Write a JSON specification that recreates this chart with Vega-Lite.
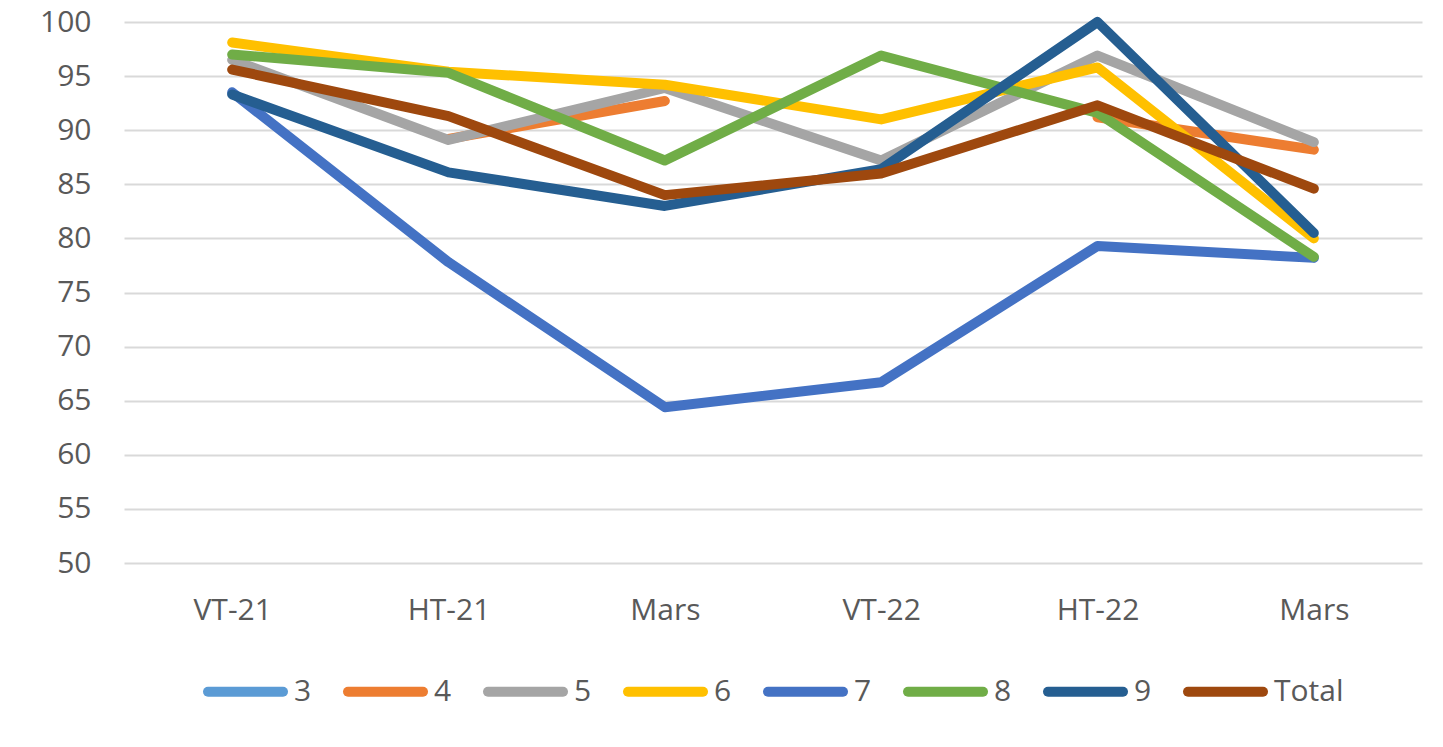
{
  "$schema": "https://vega.github.io/schema/vega-lite/v6.json",
  "width": 1298,
  "height": 541,
  "padding": {"left": 39, "top": 7, "right": 20, "bottom": 10},
  "background": "white",
  "config": {
    "view": {"stroke": null},
    "font": "Open Sans",
    "legend": {"layout": {"bottom": {"anchor": "middle", "bounds": "full"}}}
  },
  "data": {
    "values": [
      {"series": "3", "period": "VT-21", "value": null},
      {"series": "3", "period": "HT-21", "value": null},
      {"series": "3", "period": "Mars_1", "value": null},
      {"series": "3", "period": "VT-22", "value": null},
      {"series": "3", "period": "HT-22", "value": null},
      {"series": "3", "period": "Mars_2", "value": null},
      {"series": "4", "period": "VT-21", "value": null},
      {"series": "4", "period": "HT-21", "value": 89.2},
      {"series": "4", "period": "Mars_1", "value": 92.7},
      {"series": "4", "period": "VT-22", "value": null},
      {"series": "4", "period": "HT-22", "value": 91.2},
      {"series": "4", "period": "Mars_2", "value": 88.2},
      {"series": "5", "period": "VT-21", "value": 96.5},
      {"series": "5", "period": "HT-21", "value": 89.1},
      {"series": "5", "period": "Mars_1", "value": 93.9},
      {"series": "5", "period": "VT-22", "value": 87.2},
      {"series": "5", "period": "HT-22", "value": 96.9},
      {"series": "5", "period": "Mars_2", "value": 88.9},
      {"series": "6", "period": "VT-21", "value": 98.1},
      {"series": "6", "period": "HT-21", "value": 95.4},
      {"series": "6", "period": "Mars_1", "value": 94.2},
      {"series": "6", "period": "VT-22", "value": 91.0},
      {"series": "6", "period": "HT-22", "value": 95.8},
      {"series": "6", "period": "Mars_2", "value": 80.0},
      {"series": "7", "period": "VT-21", "value": 93.5},
      {"series": "7", "period": "HT-21", "value": 77.8},
      {"series": "7", "period": "Mars_1", "value": 64.4},
      {"series": "7", "period": "VT-22", "value": 66.7},
      {"series": "7", "period": "HT-22", "value": 79.3},
      {"series": "7", "period": "Mars_2", "value": 78.2},
      {"series": "8", "period": "VT-21", "value": 97.0},
      {"series": "8", "period": "HT-21", "value": 95.3},
      {"series": "8", "period": "Mars_1", "value": 87.2},
      {"series": "8", "period": "VT-22", "value": 96.9},
      {"series": "8", "period": "HT-22", "value": 91.6},
      {"series": "8", "period": "Mars_2", "value": 78.3},
      {"series": "9", "period": "VT-21", "value": 93.3},
      {"series": "9", "period": "HT-21", "value": 86.1},
      {"series": "9", "period": "Mars_1", "value": 83.0},
      {"series": "9", "period": "VT-22", "value": 86.4},
      {"series": "9", "period": "HT-22", "value": 100.0},
      {"series": "9", "period": "Mars_2", "value": 80.5},
      {"series": "Total", "period": "VT-21", "value": 95.6},
      {"series": "Total", "period": "HT-21", "value": 91.3},
      {"series": "Total", "period": "Mars_1", "value": 84.0},
      {"series": "Total", "period": "VT-22", "value": 86.0},
      {"series": "Total", "period": "HT-22", "value": 92.3},
      {"series": "Total", "period": "Mars_2", "value": 84.6}
    ]
  },
  "mark": {
    "type": "line",
    "strokeWidth": 10,
    "strokeCap": "round",
    "strokeJoin": "round",
    "invalid": "break-paths-filter-domains"
  },
  "encoding": {
    "x": {
      "field": "period",
      "type": "ordinal",
      "sort": ["VT-21", "HT-21", "Mars_1", "VT-22", "HT-22", "Mars_2"],
      "scale": {"type": "point", "padding": 0.5},
      "axis": {
        "title": null,
        "domain": false,
        "ticks": false,
        "grid": false,
        "labelAngle": 0,
        "labelFontSize": 30,
        "labelColor": "#595959",
        "labelPadding": 32,
        "labelExpr": "replace(replace(datum.label, '_1', ''), '_2', '')"
      }
    },
    "y": {
      "field": "value",
      "type": "quantitative",
      "scale": {"domain": [50, 100], "nice": false, "zero": false},
      "axis": {
        "title": null,
        "values": [50, 55, 60, 65, 70, 75, 80, 85, 90, 95, 100],
        "domain": false,
        "ticks": false,
        "gridColor": "#D9D9D9",
        "gridWidth": 2,
        "labelFontSize": 30,
        "labelColor": "#595959",
        "labelPadding": 33
      }
    },
    "color": {
      "field": "series",
      "type": "nominal",
      "scale": {
        "domain": ["3", "4", "5", "6", "7", "8", "9", "Total"],
        "range": ["#5B9BD5", "#ED7D31", "#A5A5A5", "#FFC000", "#4472C4", "#70AD47", "#255E91", "#9E480E"]
      },
      "legend": {
        "title": null,
        "orient": "bottom",
        "direction": "horizontal",
        "symbolType": "stroke",
        "symbolSize": 5625,
        "symbolStrokeWidth": 10,
        "labelFontSize": 30,
        "labelColor": "#595959",
        "labelOffset": 6,
        "columnPadding": 16,
        "offset": 24,
        "encode": {"symbols": {"update": {"strokeCap": {"value": "round"}}}}
      }
    }
  }
}
